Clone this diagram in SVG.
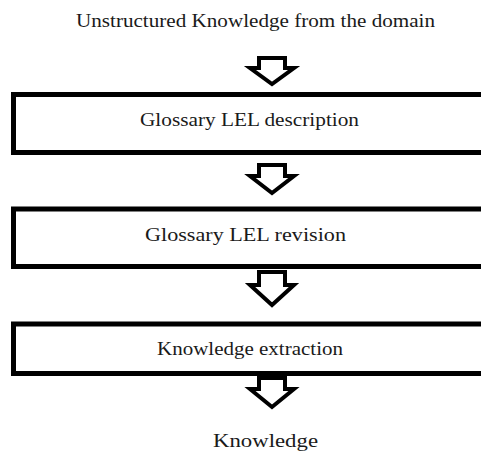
<svg xmlns="http://www.w3.org/2000/svg" width="481" height="454" viewBox="0 0 481 454">
<style>
.box{fill:#fff;stroke:#000;stroke-width:5}
.arr{fill:#fff;stroke:#000;stroke-width:4;stroke-linejoin:miter}
.t{font-family:'Liberation Serif','Times New Roman','DejaVu Serif',serif;font-size:19px;fill:#1a1a1a;text-anchor:middle}
</style>
<rect width="481" height="454" fill="#fff"/>
<g id="connectors">
<polygon class="arr" points="259,58 285,58 285,68 294,68 272,84 250,68 259,68"/>
<polygon class="arr" points="259,165 285,165 285,176 294,176 272,193 250,176 259,176"/>
<polygon class="arr" points="259,272 285,272 285,285 294,285 272,305 250,285 259,285"/>
<polygon class="arr" points="259,378 285,378 285,389 294,389 272,407 250,389 259,389"/>
</g>
<g id="source"><text class="t" x="255.5" y="27" textLength="359" lengthAdjust="spacingAndGlyphs">Unstructured Knowledge from the domain</text></g>
<g id="description"><rect class="box" x="13.5" y="94.5" width="480" height="58"/><text class="t" x="249.5" y="126" textLength="219" lengthAdjust="spacingAndGlyphs">Glossary LEL description</text></g>
<g id="revision"><rect class="box" x="13.5" y="209" width="480" height="57.5"/><text class="t" x="245.5" y="241" textLength="201" lengthAdjust="spacingAndGlyphs">Glossary LEL revision</text></g>
<g id="extraction"><rect class="box" x="13.5" y="324" width="480" height="49.5"/><text class="t" x="250" y="355" textLength="186" lengthAdjust="spacingAndGlyphs">Knowledge extraction</text></g>
<g id="knowledge"><text class="t" x="265.5" y="447" textLength="105" lengthAdjust="spacingAndGlyphs">Knowledge</text></g>
</svg>
